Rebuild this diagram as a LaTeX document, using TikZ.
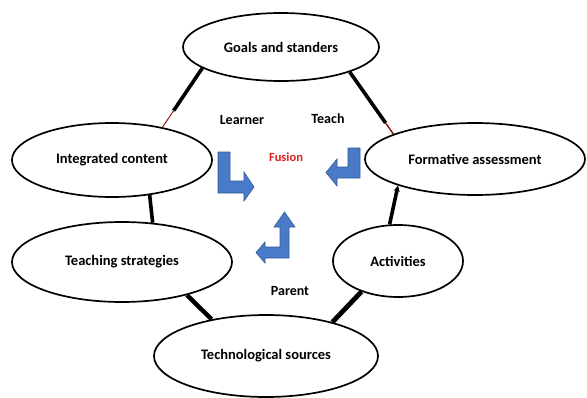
\documentclass[tikz,border=0pt]{standalone}
\usepackage{fontspec}
\setmainfont{Carlito}
\usetikzlibrary{shapes.geometric,arrows.meta,calc}
\definecolor{bluearr}{HTML}{4A7BC8}
\definecolor{bluedark}{HTML}{2E5A9A}
\definecolor{fusionred}{HTML}{E02020}
\begin{document}
\begin{tikzpicture}[x=1pt,y=-1pt,
  oval/.style={ellipse,draw=black,line width=1.7pt,fill=white,inner sep=0pt,
    font=\fontsize{14.5}{16}\selectfont\bfseries},
  conn/.style={line width=3.6pt,black},
  lbl/.style={font=\fontsize{14}{16}\selectfont\bfseries,inner sep=0pt},
  barrow/.style={fill=bluearr,draw=bluedark,line width=0.6pt,line join=miter}]
\useasboundingbox (0,0) rectangle (587,397);
\fill[white] (0,0) rectangle (587,397);
% ellipses
\node[oval,minimum width=196pt,minimum height=68pt] (goals) at (281,47) {Goals and standers};
\node[oval,minimum width=200pt,minimum height=74pt] (integ) at (112,160) {Integrated content};
\node[oval,minimum width=220pt,minimum height=80pt] (teach) at (122,262) {Teaching strategies};
\node[oval,minimum width=220pt,minimum height=72pt] (form) at (475,159) {Formative assessment};
\node[oval,minimum width=130pt,minimum height=72pt] (act) at (398,261) {Activities};
\node[oval,minimum width=224pt,minimum height=82pt] (tech) at (266,356) {Technological sources};
% connectors
\coordinate (gi) at ($(goals.195)!0.72!(integ.33)$);
\draw[conn] (goals.195) -- (gi);
\draw[line width=1pt,fusionred!70!black] (gi) -- (integ.33);
\coordinate (gf) at ($(goals.340)!0.82!(form.163)$);
\draw[conn] (goals.340) -- (gf);
\draw[line width=1.4pt,fusionred!60!black] (gf) -- (form.163);
\draw[conn] (integ.317) -- (teach.52);
\draw[conn,-{Stealth[length=6pt,width=6pt]}] (act.103) -- (form.199);
\draw[line width=4.4pt] (teach.333) -- (tech.146);
\draw[line width=4.8pt] (act.220) -- (tech.27);
% labels
\node[lbl] (learner) at (242,120) {Learner};
\node[lbl] (teachl) at (328,119) {Teach};
\node[lbl,text=fusionred,font=\fontsize{12.5}{14}\selectfont\bfseries] (fusion) at (286,157) {Fusion};
\node[lbl] (parent) at (290,291) {Parent};
% blue bent arrows
\draw[barrow] (218,152) -- (230,152) -- (230,181) -- (244,181) -- (244,172) -- (254,187)
  -- (244,201) -- (244,193) -- (218,193) -- cycle;
\draw[barrow] (360,148) -- (348,148) -- (348,167) -- (337,167) -- (337,159) -- (326,172.5)
  -- (337,186) -- (337,178) -- (360,178) -- cycle;
\draw[barrow] (280,227) -- (274,227) -- (284.5,212) -- (295,227) -- (289,227) -- (289,258)
  -- (265,258) -- (265,263) -- (256,252.5) -- (265,242) -- (265,247) -- (280,247) -- cycle;
\end{tikzpicture}
\end{document}
